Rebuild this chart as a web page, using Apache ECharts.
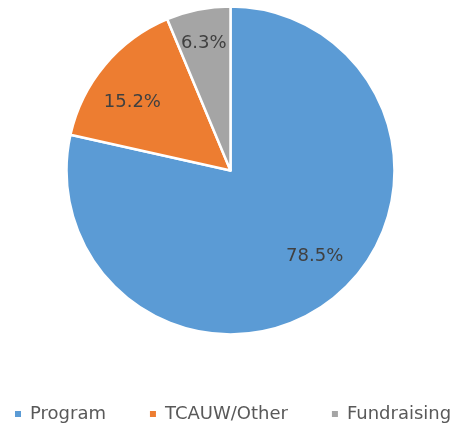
<!DOCTYPE html>
<html>
<head>
<meta charset="utf-8">
<script src="https://cdn.jsdelivr.net/npm/echarts@6/dist/echarts.min.js"></script>
<style>
  html, body { margin: 0; padding: 0; background: #fff; }
  #chart { width: 463px; height: 429px; }
</style>
</head>
<body>
<div id="chart"></div>
<script>
  const categories = ['Program', 'TCAUW/Other', 'Fundraising'];
  const values = [78.5, 15.2, 6.3];

  const myChart = echarts.init(document.getElementById('chart'));
  // colours + nudges for the inside labels (excel-ish placement)
  const colors = ['#5B9BD5', '#ED7D31', '#A5A5A5'];
  const labelNudge = [[31, 19], [-33, -14], [-10, -44]];

  const pieData = categories.map((name, i) => ({
    name: name,
    value: values[i],
    itemStyle: { color: colors[i] },
    label: { offset: labelNudge[i] }
  }));

  const option = {
    animation: false,
    legend: {
      bottom: 1,
      left: 8,
      itemWidth: 8,
      itemHeight: 8,
      itemGap: 42,
      icon: 'rect',
      textStyle: { color: '#595959', fontSize: 18, fontFamily: 'DejaVu Sans', padding: [0, 0, 0, 3] },
      data: categories
    },
    series: [
      {
        type: 'pie',
        center: [230.5, 170.5],
        radius: [0, 164],
        startAngle: 90,
        clockwise: true,
        itemStyle: { borderColor: '#fff', borderWidth: 2.5 },
        label: {
          show: true,
          position: 'inside',
          formatter: (p) => p.value.toFixed(1) + '%',
          color: '#404040',
          fontSize: 18,
          fontFamily: 'DejaVu Sans'
        },
        labelLine: { show: false },
        emphasis: { disabled: true },
        data: pieData
      }
    ]
  };
  option && myChart.setOption(option);
</script>
</body>
</html>
